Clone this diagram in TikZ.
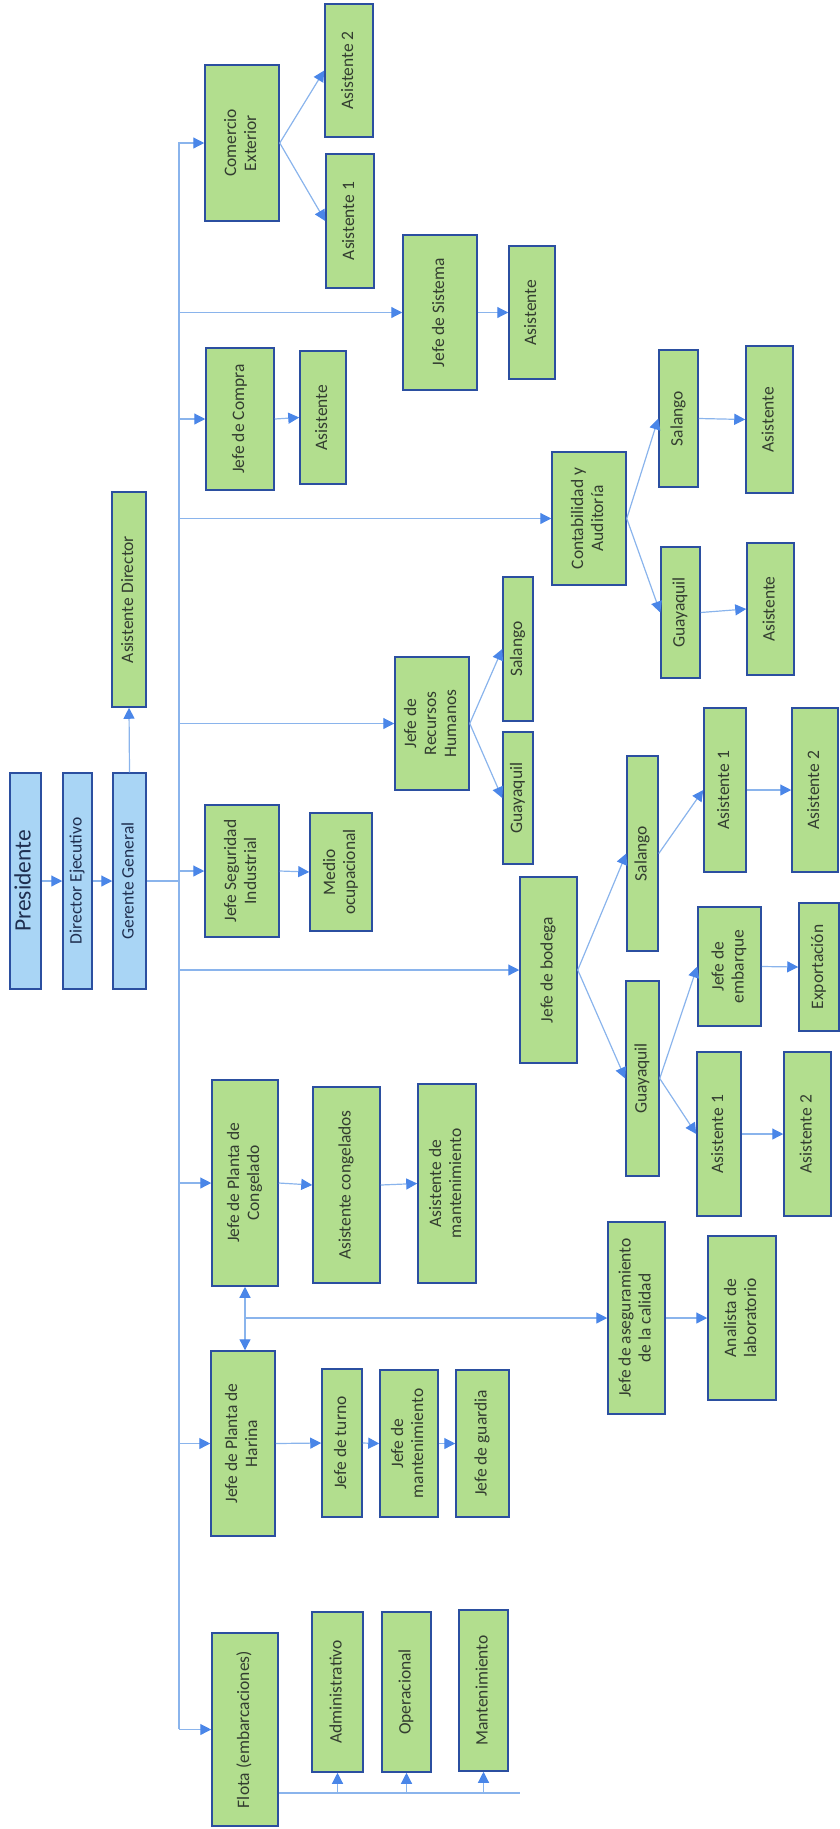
\documentclass[tikz,border=0pt]{standalone}
\usepackage{fontspec}
\setmainfont{Carlito}
\usetikzlibrary{arrows.meta,calc}
\definecolor{gfill}{HTML}{B2DE8E}
\definecolor{bfill}{HTML}{A9D5F5}
\definecolor{bord}{HTML}{2B4FA0}
\definecolor{lnc}{HTML}{8AB4EC}
\definecolor{tipc}{HTML}{4A86E8}
\definecolor{txtg}{HTML}{333D30}
\definecolor{txtb}{HTML}{1F2F50}
\tikzset{
  gbox/.style={draw=bord, line width=1.5pt, fill=gfill, inner sep=0pt, text=txtg,
    font=\fontsize{17.5}{20}\selectfont},
  bbox/.style={draw=bord, line width=1.5pt, fill=bfill, inner sep=0pt, text=txtb,
    font=\fontsize{17.5}{20}\selectfont},
  conn/.style={draw=lnc, line width=1.2pt},
  arr/.style={conn, -{Triangle[length=11pt,width=11pt,color=tipc]}},
  arrtwo/.style={conn, {Triangle[length=11pt,width=11pt,color=tipc]}-{Triangle[length=11pt,width=11pt,color=tipc]}}
}
\newcommand{\orgbox}[7]{%
  \pgfmathsetmacro{\obX}{(#3+#5)/2}%
  \pgfmathsetmacro{\obY}{-(#4+#6)/2}%
  \pgfmathsetmacro{\obW}{#5-#3}%
  \pgfmathsetmacro{\obH}{#6-#4}%
  \node[#1, minimum width=\obW pt, minimum height=\obH pt] (#2) at (\obX pt,\obY pt)
    {\rotatebox{90}{\begin{tabular}{@{}c@{}}#7\end{tabular}}};}
\begin{document}
\begin{tikzpicture}
\useasboundingbox (0,0) rectangle (840pt,-1829pt);
% top management
\orgbox{bbox}{pres}{10}{773}{41}{989}{\fontsize{23.5}{26}\selectfont Presidente}
\orgbox{bbox}{dir}{63}{773}{92}{989}{Director Ejecutivo}
\orgbox{bbox}{gg}{113}{773}{146}{989}{Gerente General}
\orgbox{gbox}{ad}{112}{492}{146}{707}{Asistente Director}
% branch heads
\orgbox{gbox}{ce}{205}{65}{279}{221}{Comercio\\Exterior}
\orgbox{gbox}{ceA}{325}{4}{373}{137}{Asistente 2}
\orgbox{gbox}{ceB}{326}{154}{374}{288}{Asistente 1}
\orgbox{gbox}{sis}{403}{235}{477}{390}{Jefe de Sistema}
\orgbox{gbox}{sisA}{509}{246}{555}{379}{Asistente}
\orgbox{gbox}{com}{206}{348}{274}{490}{Jefe de Compra}
\orgbox{gbox}{comA}{300}{351}{346}{484}{Asistente}
\orgbox{gbox}{cont}{552}{452}{626}{585}{Contabilidad y\\Auditoría}
\orgbox{gbox}{contS}{659}{350}{698}{487}{Salango}
\orgbox{gbox}{contSA}{746}{346}{793}{493}{Asistente}
\orgbox{gbox}{contG}{661}{547}{700}{678}{Guayaquil}
\orgbox{gbox}{contGA}{747}{543}{794}{675}{Asistente}
\orgbox{gbox}{rh}{395}{657}{469}{790}{Jefe de\\Recursos\\Humanos}
\orgbox{gbox}{rhS}{503}{577}{533}{721}{Salango}
\orgbox{gbox}{rhG}{503}{732}{533}{864}{Guayaquil}
\orgbox{gbox}{seg}{205}{805}{279}{937}{Jefe Seguridad\\Industrial}
\orgbox{gbox}{med}{310}{813}{372}{931}{Medio\\ocupacional}
\orgbox{gbox}{bod}{520}{877}{577}{1063}{Jefe de bodega}
\orgbox{gbox}{bodS}{627}{756}{658}{951}{Salango}
\orgbox{gbox}{bodSA}{704}{708}{746}{872}{Asistente 1}
\orgbox{gbox}{bodSB}{792}{708}{838}{872}{Asistente 2}
\orgbox{gbox}{bodG}{626}{981}{659}{1176}{Guayaquil}
\orgbox{gbox}{emb}{698}{907}{761}{1026}{Jefe de\\embarque}
\orgbox{gbox}{exp}{799}{903}{839}{1031}{Exportación}
\orgbox{gbox}{bodGA}{697}{1052}{741}{1216}{Asistente 1}
\orgbox{gbox}{bodGB}{784}{1052}{831}{1216}{Asistente 2}
\orgbox{gbox}{cong}{212}{1080}{278}{1286}{Jefe de Planta de\\Congelado}
\orgbox{gbox}{congA}{313}{1087}{380}{1283}{Asistente congelados}
\orgbox{gbox}{congM}{418}{1084}{476}{1283}{Asistente de\\mantenimiento}
\orgbox{gbox}{aseg}{608}{1222}{665}{1414}{Jefe de aseguramiento\\de la calidad}
\orgbox{gbox}{anal}{708}{1236}{776}{1400}{Analista de\\laboratorio}
\orgbox{gbox}{har}{211}{1351}{275}{1536}{Jefe de Planta de\\Harina}
\orgbox{gbox}{tur}{322}{1369}{362}{1517}{Jefe de turno}
\orgbox{gbox}{man}{380}{1370}{438}{1517}{Jefe de\\mantenimiento}
\orgbox{gbox}{gua}{456}{1370}{509}{1517}{Jefe de guardia}
\orgbox{gbox}{flo}{212}{1633}{278}{1826}{Flota (embarcaciones)}
\orgbox{gbox}{adm}{312}{1612}{363}{1772}{Administrativo}
\orgbox{gbox}{ope}{382}{1612}{431}{1772}{Operacional}
\orgbox{gbox}{mnt}{459}{1610}{508}{1771}{Mantenimiento}
% trunk
\coordinate (trTop) at (179pt,-142pt);
\coordinate (trBot) at (179pt,-1729pt);
\draw[conn] (trTop) -- (trBot);
\draw[arr] (pres.east) -- (dir.west);
\draw[arr] (dir.east) -- (gg.west);
\draw[arr] (gg.north) -- (ad.south);
\draw[conn] (gg.east) -- (gg.east -| trTop);
\foreach \n in {ce,sis,com,cont,rh,seg,bod,cong,har,flo}
  \draw[arr] (trTop |- \n.west) -- (\n.west);
% sub branches
\draw[arr] (ce.east) -- (ceA.west);
\draw[arr] (ce.east) -- (ceB.west);
\draw[arr] (sis.east) -- (sisA.west);
\draw[arr] (com.east) -- (comA.west);
\draw[arr] (cont.east) -- (contS.west);
\draw[arr] (cont.east) -- (contG.west);
\draw[arr] (contS.east) -- (contSA.west);
\draw[arr] (contG.east) -- (contGA.west);
\draw[arr] (rh.east) -- (rhS.west);
\draw[arr] (rh.east) -- (rhG.west);
\draw[arr] (seg.east) -- (med.west);
\draw[arr] (bod.east) -- (bodS.west);
\draw[arr] (bod.east) -- (bodG.west);
\draw[arr] (bodS.east) -- (bodSA.west);
\draw[arr] (bodSA.east) -- (bodSB.west);
\draw[arr] (bodG.east) -- (emb.west);
\draw[arr] (bodG.east) -- (bodGA.west);
\draw[arr] (emb.east) -- (exp.west);
\draw[arr] (bodGA.east) -- (bodGB.west);
\draw[arr] (cong.east) -- (congA.west);
\draw[arr] (congA.east) -- (congM.west);
\draw[arrtwo] (cong.south) -- (cong.south |- har.north);
\draw[arr] (cong.south |- aseg.west) -- (aseg.west);
\draw[arr] (aseg.east) -- (anal.west);
\draw[arr] (har.east) -- (tur.west);
\draw[arr] (tur.east) -- (man.west);
\draw[arr] (man.east) -- (gua.west);
% fleet
\coordinate (flEnd) at (520pt,-1793pt);
\draw[conn] (flo.east |- flEnd) -- (flEnd);
\draw[arr] (adm.south |- flEnd) -- (adm.south);
\draw[arr] (ope.south |- flEnd) -- (ope.south);
\draw[arr] (mnt.south |- flEnd) -- (mnt.south);
\end{tikzpicture}
\end{document}
